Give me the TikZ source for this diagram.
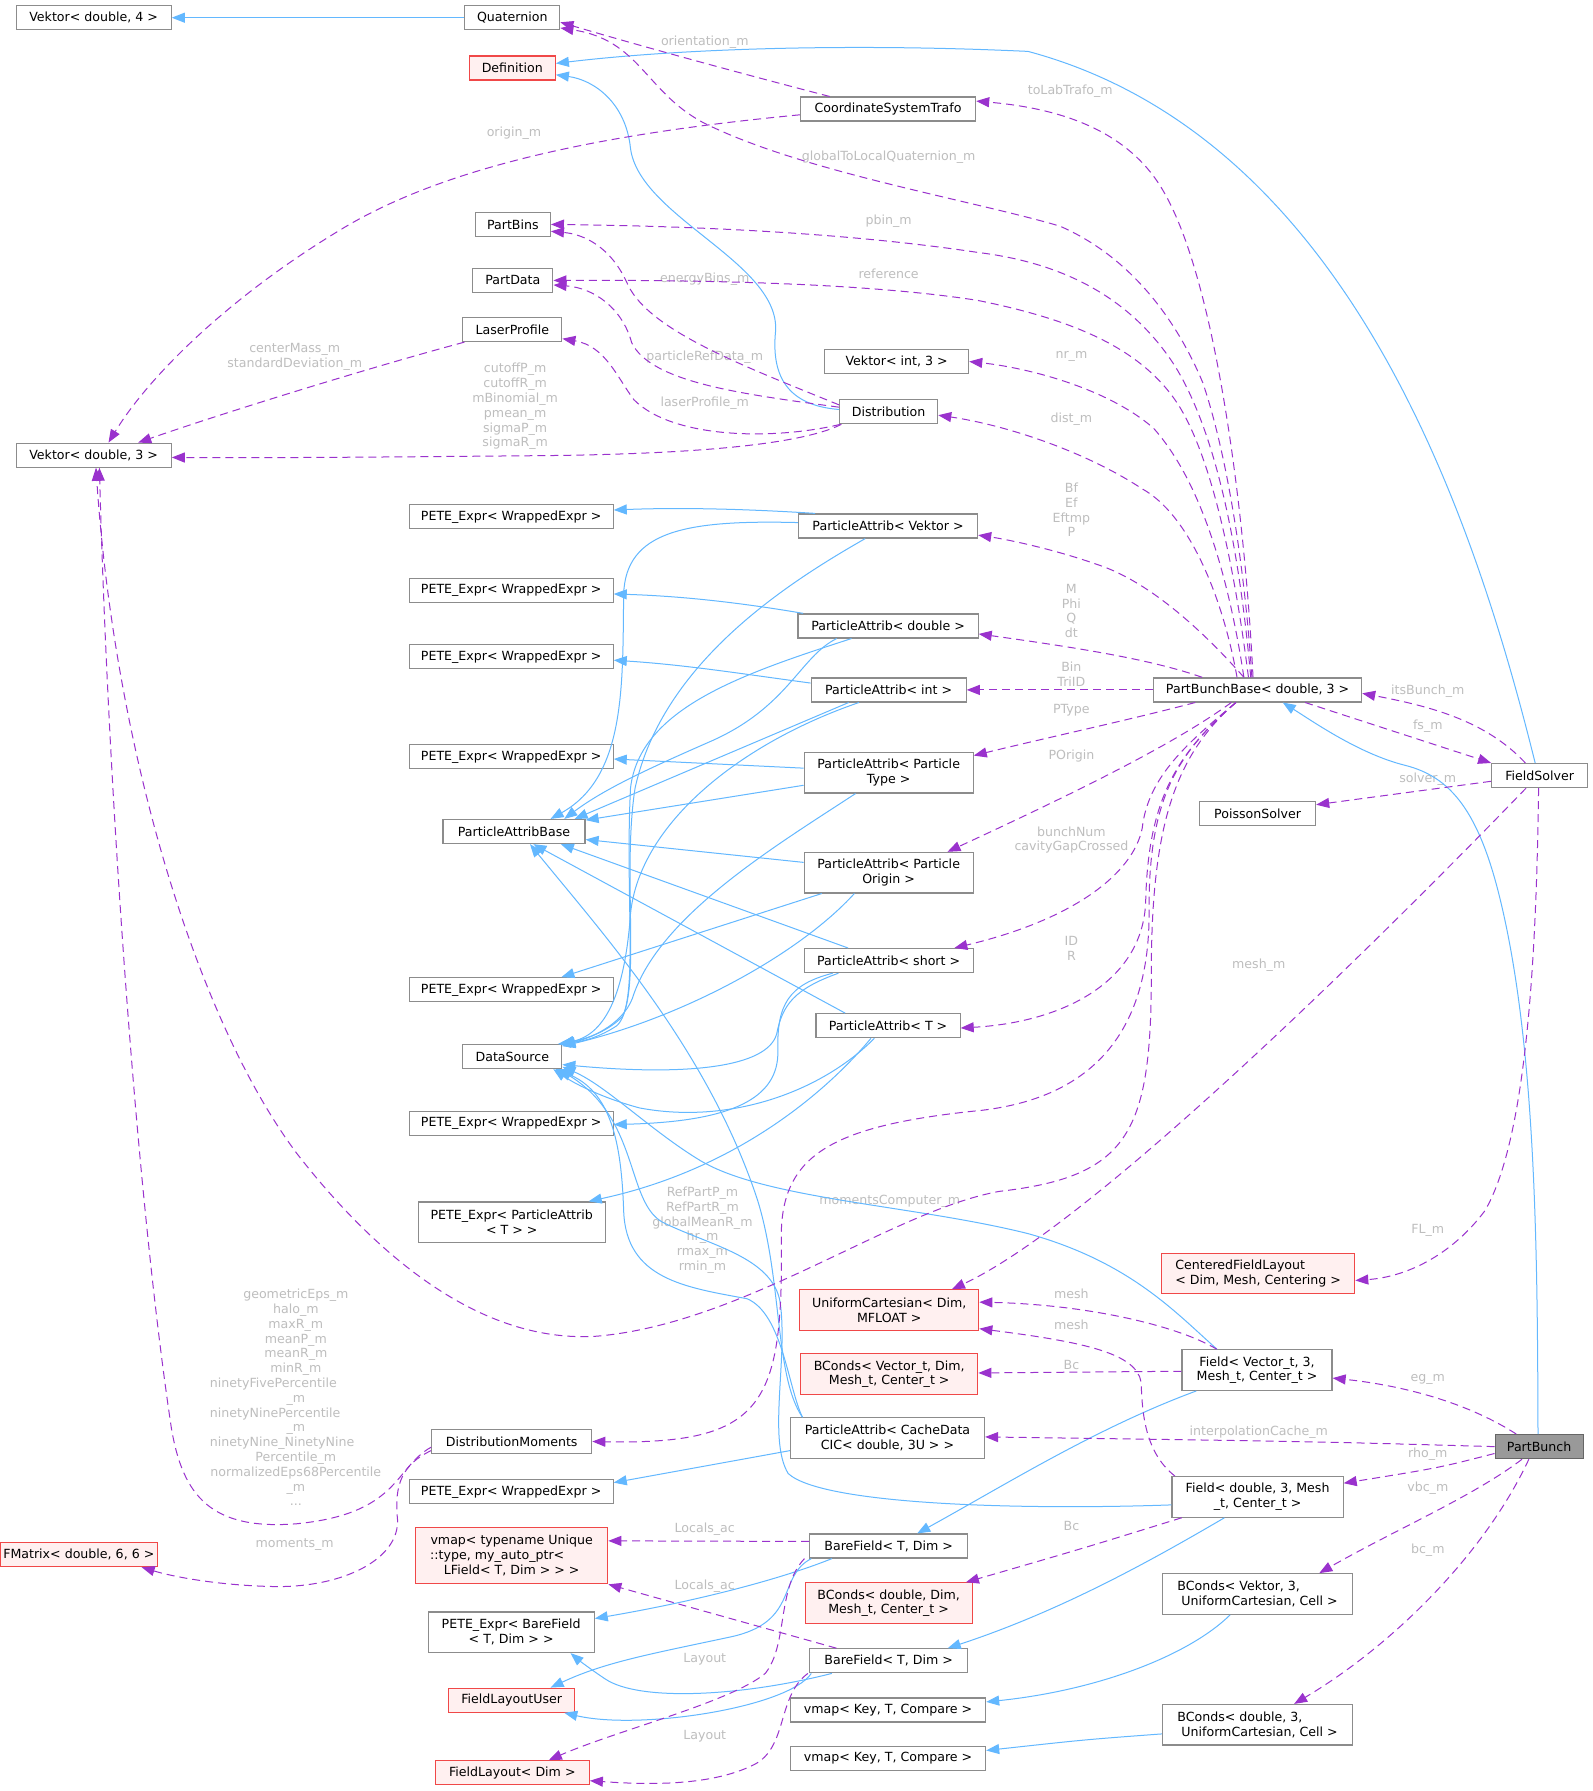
\documentclass[tikz,border=0pt]{standalone}
\usepackage{fontspec}
\setmainfont{DejaVu Sans}
\usetikzlibrary{arrows.meta,calc}
\newcommand\dfont{\fontsize{12.6pt}{14.8pt}\selectfont}
\newcommand\lblline[1]{\hbox to 171.7pt{#1\hss}}
\newcommand\vmline[1]{\hbox to 163pt{#1\hss}}
\definecolor{eblue}{HTML}{63B8FF}
\definecolor{epurple}{HTML}{9A32CD}
\definecolor{lgrey}{HTML}{BEBEBE}
\definecolor{nborder}{HTML}{8C8C8C}
\definecolor{rborder}{HTML}{F04848}
\definecolor{rfill}{HTML}{FFF0F0}
\definecolor{mainfill}{HTML}{999999}
\definecolor{mainborder}{HTML}{666666}
\tikzset{
  cls/.style={draw=nborder, line width=1.2pt, fill=white, font=\dfont, align=center, inner xsep=3pt, inner ysep=2pt, minimum height=24pt, text=black},
  redcls/.style={cls, draw=rborder, fill=rfill},
  maincls/.style={cls, draw=mainborder, fill=mainfill},
  twoline/.style={minimum height=40.5pt},
  threeline/.style={minimum height=56pt},
  inh/.style={draw=eblue, line width=1pt, -{Triangle[length=13pt,width=10pt]}},
  usg/.style={draw=epurple, line width=1pt, dash pattern=on 8pt off 5pt, -{Triangle[length=13pt,width=10pt]}},
  lbl/.style={font=\dfont, text=lgrey, align=center, inner sep=0pt},
}
\begin{document}
\begin{tikzpicture}[x=1.142pt,y=-1.142pt]
\fill[white] (0,0) rectangle (1394,1568);
\useasboundingbox (0,0) rectangle (1394,1568);

% ---------------- nodes ----------------
\node[cls,minimum width=155pt] (vek4) at (82,15.5) {Vektor< double, 4 >};
\node[cls,minimum width=95pt] (quat) at (448.5,15.5) {Quaternion};
\node[redcls,minimum width=86pt] (definition) at (448.5,59.5) {Definition};
\node[cls,minimum width=175pt] (cst) at (777.5,95.5) {CoordinateSystemTrafo};
\node[cls,minimum width=75pt] (partbins) at (449,196.5) {PartBins};
\node[cls,minimum width=80pt] (partdata) at (449,245.5) {PartData};
\node[cls,minimum width=99pt] (laser) at (448.5,288.5) {LaserProfile};
\node[cls,minimum width=144pt] (vint) at (785,316.5) {Vektor< int, 3 >};
\node[cls,minimum width=98pt] (distrib) at (778,360.5) {Distribution};
\node[cls,minimum width=155pt] (vek3) at (82,398.5) {Vektor< double, 3 >};
\node[cls,minimum width=204pt] (peteA) at (447.5,452.5) {PETE\_Expr< WrappedExpr >};
\node[cls,minimum width=179pt] (paVek) at (777.5,460.5) {ParticleAttrib< Vektor >};
\node[cls,minimum width=204pt] (peteB) at (447.5,517) {PETE\_Expr< WrappedExpr >};
\node[cls,minimum width=180pt] (paDbl) at (777.5,548) {ParticleAttrib< double >};
\node[cls,minimum width=204pt] (peteC) at (447.5,575) {PETE\_Expr< WrappedExpr >};
\node[cls,minimum width=155pt] (paInt) at (778,604) {ParticleAttrib< int >};
\node[cls,minimum width=208pt] (pbb) at (1101,604) {PartBunchBase< double, 3 >};
\node[cls,minimum width=204pt] (peteD) at (447.5,662.5) {PETE\_Expr< WrappedExpr >};
\node[cls,twoline,minimum width=169pt] (paType) at (778,676.5) {ParticleAttrib< Particle\\Type >};
\node[cls,minimum width=142pt] (pabase) at (450,728) {ParticleAttribBase};
\node[cls,minimum width=96pt] (fsolver) at (1348,679) {FieldSolver};
\node[cls,minimum width=116pt] (poisson) at (1101,712.5) {PoissonSolver};
\node[cls,twoline,minimum width=169pt] (paOrig) at (778,764) {ParticleAttrib< Particle\\Origin >};
\node[cls,minimum width=169pt] (paShort) at (778,841) {ParticleAttrib< short >};
\node[cls,minimum width=204pt] (peteE) at (447.5,866.5) {PETE\_Expr< WrappedExpr >};
\node[cls,minimum width=144pt] (paT) at (777.5,898) {ParticleAttrib< T >};
\node[cls,minimum width=99pt] (datasrc) at (448.5,925) {DataSource};
\node[cls,minimum width=204pt] (peteF) at (447.5,983.5) {PETE\_Expr< WrappedExpr >};
\node[cls,twoline,minimum width=187pt] (petePAT) at (448,1070) {PETE\_Expr< ParticleAttrib\\< T > >};
\node[redcls,twoline,minimum width=193pt,align=left] (cfl) at (1101.5,1115) {CenteredFieldLayout\\< Dim, Mesh, Centering >};
\node[redcls,twoline,minimum width=179pt] (uc) at (778.5,1147) {UniformCartesian< Dim,\\MFLOAT >};
\node[redcls,twoline,minimum width=177pt] (bcvt) at (778.5,1203) {BConds< Vector\_t, Dim,\\Mesh\_t, Center\_t >};
\node[cls,twoline,minimum width=150pt] (fvt) at (1100.5,1199.5) {Field< Vector\_t, 3,\\Mesh\_t, Center\_t >};
\node[cls,minimum width=160pt] (dmom) at (448,1262) {DistributionMoments};
\node[cls,twoline,minimum width=194pt] (cache) at (777,1259) {ParticleAttrib< CacheData\\CIC< double, 3U > >};
\node[maincls,minimum width=88pt] (partbunch) at (1347.5,1266.5) {PartBunch};
\node[cls,minimum width=204pt] (peteG) at (447.5,1306) {PETE\_Expr< WrappedExpr >};
\node[cls,twoline,minimum width=171pt] (fdbl) at (1101,1310.5) {Field< double, 3, Mesh\\\_t, Center\_t >};
\node[redcls,minimum width=146pt] (fmatrix) at (69,1361) {FMatrix< double, 6, 6 >};
\node[redcls,threeline,minimum width=192pt] (vmapT) at (448,1362) {vmap< typename Unique\\\vmline{::type, my\_auto\_ptr<}\\LField< T, Dim > > >};
\node[cls,minimum width=158pt] (bfA) at (778,1353.5) {BareField< T, Dim >};
\node[redcls,twoline,minimum width=167pt] (bcd) at (778,1403.5) {BConds< double, Dim,\\Mesh\_t, Center\_t >};
\node[cls,twoline,minimum width=190pt,align=left] (bcv3) at (1101,1395.5) {BConds< Vektor, 3,\\\hspace*{4pt}UniformCartesian, Cell >};
\node[cls,twoline,minimum width=166pt] (petebf) at (447.5,1429) {PETE\_Expr< BareField\\< T, Dim > >};
\node[cls,minimum width=158pt] (bfB) at (778,1454) {BareField< T, Dim >};
\node[redcls,minimum width=126pt] (flu) at (448,1488.5) {FieldLayoutUser};
\node[cls,minimum width=195pt] (vmapA) at (777.5,1497) {vmap< Key, T, Compare >};
\node[cls,twoline,minimum width=190pt,align=left] (bcd3) at (1101,1510) {BConds< double, 3,\\\hspace*{4pt}UniformCartesian, Cell >};
\node[redcls,minimum width=154pt] (flayout) at (448.5,1552) {FieldLayout< Dim >};
\node[cls,minimum width=195pt] (vmapB) at (777.5,1539.5) {vmap< Key, T, Compare >};

% ---------------- labels ----------------
\node[lbl] (lOrient) at (617,37) {orientation\_m};
\node[lbl] (lToLab) at (937,80) {toLabTrafo\_m};
\node[lbl] (lOriginM) at (450,117) {origin\_m};
\node[lbl] (lG2L) at (778,138) {globalToLocalQuaternion\_m};
\node[lbl] (lPbin) at (778,194) {pbin\_m};
\node[lbl] (lEBins) at (617,244) {energyBins\_m};
\node[lbl] (lRef) at (778,240) {reference};
\node[lbl] (lCM) at (258,312.5) {centerMass\_m\\standardDeviation\_m};
\node[lbl] (lCut) at (451,356) {cutoffP\_m\\cutoffR\_m\\mBinomial\_m\\pmean\_m\\sigmaP\_m\\sigmaR\_m};
\node[lbl] (lPRD) at (617,313) {particleRefData\_m};
\node[lbl] (lNr) at (938,312) {nr\_m};
\node[lbl] (lLP) at (617,353) {laserProfile\_m};
\node[lbl] (lDist) at (938,367) {dist\_m};
\node[lbl] (lBf) at (938,446.5) {Bf\\Ef\\Eftmp\\P};
\node[lbl] (lM) at (938,535) {M\\Phi\\Q\\dt};
\node[lbl] (lBin) at (938,590.5) {Bin\\TriID};
\node[lbl] (lPType) at (938,622) {PType};
\node[lbl] (lIts) at (1250,605) {itsBunch\_m};
\node[lbl] (lFs) at (1250,636) {fs\_m};
\node[lbl] (lPOrig) at (938,662) {POrigin};
\node[lbl] (lSolver) at (1250,682) {solver\_m};
\node[lbl] (lBunch) at (938,735.5) {bunchNum\\cavityGapCrossed};
\node[lbl] (lID) at (938,830.5) {ID\\R};
\node[lbl] (lMeshM) at (1102,845) {mesh\_m};
\node[lbl] (lMC) at (779,1052) {momentsComputer\_m};
\node[lbl] (lRefP) at (615,1077) {RefPartP\_m\\RefPartR\_m\\globalMeanR\_m\\hr\_m\\rmax\_m\\rmin\_m};
\node[lbl] (lFL) at (1250,1077) {FL\_m};
\node[lbl] (lMesh1) at (938,1133) {mesh};
\node[lbl] (lMesh2) at (938,1160) {mesh};
\node[lbl] (lBc1) at (938,1195) {Bc};
\node[lbl] (lEg) at (1250,1208) {eg\_m};
\node[lbl] (lGeo) at (259,1223.5) {geometricEps\_m\\halo\_m\\maxR\_m\\meanP\_m\\meanR\_m\\minR\_m\\\lblline{ninetyFivePercentile}\\\_m\\\lblline{ninetyNinePercentile}\\\_m\\\lblline{ninetyNine\_NinetyNine}\\Percentile\_m\\normalizedEps68Percentile\\\_m\\...};
\node[lbl] (lIC) at (1102,1254) {interpolationCache\_m};
\node[lbl] (lRho) at (1250,1273) {rho\_m};
\node[lbl] (lVbc) at (1250,1303) {vbc\_m};
\node[lbl] (lLA1) at (617,1339) {Locals\_ac};
\node[lbl] (lBc2) at (938,1336) {Bc};
\node[lbl] (lMom) at (258,1352) {moments\_m};
\node[lbl] (lBcm) at (1250,1357) {bc\_m};
\node[lbl] (lLA2) at (617,1389) {Locals\_ac};
\node[lbl] (lLay1) at (617,1453) {Layout};
\node[lbl] (lLay2) at (617,1520) {Layout};

% ---------------- inheritance (blue) ----------------
\draw[inh] (quat) -- (vek4);
\draw[inh] ($(fsolver.north)+(-4,0)$) .. controls (1290,450) and (1180,120) .. (900,45) .. controls (750,38) and (600,42) .. ($(definition.east)+(0,-4)$);
\draw[inh] ($(distrib.west)+(0,-2)$) .. controls (690,355) and (675,330) .. (679,290) .. controls (683,230) and (560,190) .. (552,130) .. controls (548,90) and (520,70) .. ($(definition.east)+(0,6)$);
\draw[inh] ($(partbunch.north)+(-1,0)$) .. controls (1346,1100) and (1345,920) .. (1314,790) .. controls (1295,710) and (1270,680) .. (1230,670) .. controls (1190,660) and (1150,632) .. ($(pbb.south)+(22,0)$);
% Vektor
\draw[inh] ($(paVek.north west)+(15,0)$) .. controls (660,446) and (600,444) .. ($(peteA.east)+(0,-6)$);
\draw[inh] ($(paVek.west)+(0,-3)$) .. controls (600,455) and (548,465) .. (546,520) .. controls (545,600) and (548,680) .. ($(pabase.north)+(32,0)$);
\draw[inh] ($(paVek.south)+(-20,0)$) .. controls (690,510) and (580,580) .. (556,690) .. controls (545,760) and (560,860) .. (545,890) .. controls (530,905) and (510,910) .. ($(datasrc.north east)+(-2,0)$);
% double
\draw[inh] ($(paDbl.north west)+(5,0)$) .. controls (650,528) and (600,522) .. ($(peteB.east)+(0,3)$);
\draw[inh] ($(paDbl.south)+(-45,0)$) .. controls (700,575) and (690,620) .. (620,650) .. controls (570,672) and (530,690) .. ($(pabase.north)+(44,0)$);
\draw[inh] ($(paDbl.south)+(-32,0)$) .. controls (650,590) and (560,620) .. (552,690) .. controls (547,790) and (560,880) .. (540,898) .. controls (525,908) and (510,912) .. ($(datasrc.north east)+(-4,0)$);
% int
\draw[inh] ($(paInt.west)+(0,-6)$) .. controls (650,590) and (600,582) .. ($(peteC.east)+(0,3)$);
\draw[inh] ($(paInt.south)+(-35,0)$) -- ($(pabase.north)+(53,0)$);
\draw[inh] ($(paInt.south)+(-26,0)$) .. controls (650,650) and (560,720) .. (552,800) .. controls (547,870) and (530,905) .. ($(datasrc.north east)+(-1,0)$);
% Type
\draw[inh] ($(paType.west)+(0,-4)$) -- ($(peteD.east)+(0,2)$);
\draw[inh] ($(paType.west)+(0,11)$) -- ($(pabase.east)+(0,-10)$);
\draw[inh] ($(paType.south)+(-29,0)$) .. controls (680,740) and (580,800) .. (555,870) .. controls (548,895) and (520,908) .. ($(datasrc.north east)+(0,1)$);
% Origin
\draw[inh] ($(paOrig.west)+(0,-9)$) -- ($(pabase.east)+(0,7)$);
\draw[inh] ($(paOrig.south west)+(16,0)$) -- ($(peteE.north)+(44,0)$);
\draw[inh] ($(paOrig.south)+(-30,0)$) .. controls (700,835) and (600,890) .. ($(datasrc.north east)+(0,2)$);
% short
\draw[inh] ($(paShort.north west)+(39,0)$) -- ($(pabase.south)+(41,0)$);
\draw[inh] ($(paShort.south)+(-49,0)$) .. controls (690,862) and (680,880) .. (681,920) .. controls (682,962) and (640,982) .. ($(peteF.east)+(0,1)$);
\draw[inh] ($(paShort.south)+(-44,0)$) .. controls (695,866) and (685,880) .. (680,905) .. controls (672,935) and (600,942) .. ($(datasrc.south east)+(0,-4)$);
% T
\draw[inh] ($(paT.north west)+(26,0)$) -- ($(pabase.south)+(17,0)$);
\draw[inh] ($(paT.south)+(-12,0)$) .. controls (720,955) and (640,985) .. (560,970) .. controls (530,962) and (505,950) .. ($(datasrc.south east)+(-8,0)$);
\draw[inh] ($(paT.south)+(-15,0)$) .. controls (720,960) and (640,1025) .. ($(petePAT.north east)+(-15,0)$);
% CacheData
\draw[inh] ($(cache.west)+(0,11)$) -- ($(peteG.east)+(0,-8)$);
\draw[inh] ($(cache.north west)+(11,0)$) .. controls (678,1205) and (685,1120) .. (663,1050) .. controls (620,920) and (530,820) .. ($(pabase.south)+(14,0)$);
\draw[inh] ($(cache.north west)+(11,0)$) .. controls (690,1215) and (685,1150) .. (654,1137) .. controls (600,1127) and (548,1120) .. (546,1060) .. controls (544,1000) and (535,955) .. ($(datasrc.south east)+(-6,0)$);
% Field< Vector_t >
\draw[inh] ($(fvt.south west)+(13,0)$) .. controls (960,1250) and (880,1300) .. ($(bfA.north)+(25,0)$);
\draw[inh] ($(fvt.north)+(-35,0)$) .. controls (1030,1150) and (990,1105) .. (900,1080) .. controls (800,1055) and (670,1050) .. (613,1016) .. controls (570,990) and (530,950) .. ($(datasrc.south east)+(0,-2)$);
% Field< double >
\draw[inh] ($(fdbl.south)+(-29,0)$) .. controls (1010,1365) and (930,1410) .. ($(bfB.north east)+(-18,0)$);
\draw[inh] ($(fdbl.west)+(0,7)$) .. controls (900,1322) and (720,1318) .. (690,1290) .. controls (672,1260) and (690,1190) .. (683,1140) .. controls (676,1100) and (620,1090) .. (580,1070) .. controls (548,1052) and (560,980) .. ($(datasrc.south east)+(-3,0)$);
% BareField
\draw[inh] ($(bfA.south west)+(20,0)$) .. controls (690,1380) and (620,1400) .. ($(petebf.east)+(0,-12)$);
\draw[inh] ($(bfA.south west)+(2,0)$) .. controls (680,1380) and (700,1420) .. (640,1433) .. controls (570,1448) and (530,1455) .. ($(flu.north)+(34,0)$);
\draw[inh] ($(bfB.south west)+(20,0)$) .. controls (650,1485) and (560,1490) .. (530,1470) .. controls (515,1460) and (505,1452) .. ($(petebf.south)+(52,0)$);
\draw[inh] ($(bfB.south west)+(2,0)$) .. controls (690,1495) and (560,1515) .. ($(flu.south)+(46,0)$);
% BConds
\draw[inh] ($(bcv3.south)+(-24,0)$) .. controls (1040,1450) and (960,1480) .. ($(vmapA.east)+(0,-7)$);
\draw[inh] ($(bcd3.west)+(0,8)$) .. controls (950,1523) .. ($(vmapB.east)+(0,-7)$);

% ---------------- usage (purple dashed) ----------------
\draw[usg] ($(cst.north west)+(26,0)$) .. controls (640,62) and (560,40) .. ($(quat.east)+(0,4)$);
\draw[usg] ($(pbb.north)+(-5,0)$) .. controls (1090,500) and (1075,400) .. (1053,335) .. controls (1030,280) and (990,225) .. (928,198) .. controls (850,175) and (700,150) .. (615,107) .. controls (565,80) and (560,35) .. ($(quat.east)+(0,9)$);
\draw[usg] ($(pbb.north)+(-4,0)$) .. controls (1090,450) and (1065,250) .. (1020,170) .. controls (990,115) and (930,95) .. ($(cst.east)+(0,-7)$);
\draw[usg] ($(pbb.north)+(-6,0)$) .. controls (1085,480) and (1065,380) .. (1029,321) .. controls (990,260) and (930,230) .. (856,221) .. controls (750,205) and (620,198) .. (partbins.east);
\draw[usg] ($(pbb.north)+(-8,0)$) .. controls (1080,490) and (1060,400) .. (1032,355) .. controls (1000,305) and (940,280) .. (856,263) .. controls (760,248) and (620,245) .. (partdata.east);
\draw[usg] ($(pbb.north)+(-12,0)$) .. controls (1075,500) and (1050,420) .. (1010,375) .. controls (970,340) and (900,322) .. (vint.east);
\draw[usg] ($(pbb.north)+(-18,0)$) .. controls (1070,520) and (1040,450) .. (1000,428) .. controls (950,395) and (880,372) .. ($(distrib.east)+(0,3)$);
\draw[usg] ($(pbb.north)+(-12,0)$) .. controls (1060,560) and (1010,510) .. (960,494) .. controls (920,480) and (880,472) .. ($(paVek.east)+(0,8)$);
\draw[usg] ($(pbb.north west)+(43,0)$) .. controls (1010,578) and (950,568) .. ($(paDbl.east)+(0,7)$);
\draw[usg] (pbb.west) -- (paInt.east);
\draw[usg] ($(pbb.south west)+(37,0)$) .. controls (990,630) and (920,645) .. ($(paType.east)+(0,-15)$);
\draw[usg] ($(pbb.south)+(-23,0)$) .. controls (1030,650) and (950,690) .. ($(paOrig.north east)+(-23,0)$);
\draw[usg] ($(pbb.south)+(-19,0)$) .. controls (1040,650) and (1005,680) .. (1000,725) .. controls (992,765) and (940,805) .. ($(paShort.north east)+(-17,0)$);
\draw[usg] ($(pbb.south)+(-19,0)$) .. controls (1030,660) and (1005,700) .. (1003,790) .. controls (1000,860) and (930,895) .. ($(paT.east)+(0,2)$);
\draw[usg] ($(pbb.south)+(-19,0)$) .. controls (1030,660) and (1008,720) .. (1008,850) .. controls (1008,990) and (990,1030) .. (875,1043) .. controls (780,1060) and (650,1160) .. (520,1170) .. controls (420,1175) and (330,1100) .. (260,1010) .. controls (170,890) and (100,650) .. ($(vek3.south)+(2,0)$);
\draw[usg] ($(pbb.south)+(-19,0)$) .. controls (1030,660) and (1005,700) .. (1006,800) .. controls (1006,900) and (960,960) .. (860,972) .. controls (730,985) and (685,1010) .. (684,1080) .. controls (686,1230) and (670,1265) .. (dmom.east);
\draw[usg] ($(pbb.south east)+(-50,0)$) -- (fsolver.north west);
\draw[usg] ($(fsolver.north west)+(30,0)$) .. controls (1300,630) and (1250,618) .. ($(pbb.east)+(0,3)$);
\draw[usg] ($(fsolver.west)+(0,5)$) -- ($(poisson.east)+(0,-8)$);
\draw[usg] ($(fsolver.south)+(-12,0)$) .. controls (1220,810) and (960,1070) .. ($(uc.north east)+(-24,0)$);
\draw[usg] ($(fsolver.south)+(-1,0)$) .. controls (1345,850) and (1335,1000) .. (1300,1060) .. controls (1270,1100) and (1230,1118) .. ($(cfl.east)+(0,6)$);
\draw[usg] ($(distrib.north west)+(0,5)$) .. controls (650,320) and (570,290) .. (550,250) .. controls (535,215) and (510,205) .. ($(partbins.east)+(0,6)$);
\draw[usg] ($(distrib.west)+(0,-4)$) .. controls (650,345) and (570,335) .. (553,300) .. controls (545,270) and (520,252) .. ($(partdata.east)+(0,4)$);
\draw[usg] ($(distrib.south west)+(1,0)$) .. controls (680,385) and (590,385) .. (555,350) .. controls (540,330) and (530,303) .. ($(laser.east)+(0,8)$);
\draw[usg] ($(distrib.south west)+(2,0)$) .. controls (700,390) and (600,398) .. (464,399) .. controls (350,400) and (250,401) .. ($(vek3.east)+(0,2)$);
\draw[usg] ($(laser.south west)+(2,0)$) .. controls (330,320) and (200,360) .. ($(vek3.north)+(39,0)$);
\draw[usg] ($(cst.west)+(0,5)$) .. controls (550,115) and (400,140) .. (300,200) .. controls (200,260) and (130,330) .. ($(vek3.north)+(13,0)$);
\draw[usg] ($(dmom.west)+(0,5)$) .. controls (345,1285) and (350,1325) .. (260,1334) .. controls (185,1340) and (160,1310) .. (150,1250) .. controls (120,1050) and (95,700) .. ($(vek3.south)+(5,0)$);
\draw[usg] ($(dmom.west)+(0,8)$) .. controls (352,1282) and (345,1300) .. (348,1330) .. controls (350,1365) and (300,1390) .. (240,1389) .. controls (190,1388) and (150,1380) .. ($(fmatrix.south)+(55,0)$);
\draw[usg] (partbunch.west) .. controls (1150,1262) .. ($(cache.east)+(0,-1)$);
\draw[usg] ($(partbunch.north west)+(19,0)$) .. controls (1280,1225) and (1220,1212) .. ($(fvt.east)+(0,7)$);
\draw[usg] ($(partbunch.west)+(0,6)$) .. controls (1260,1285) .. ($(fdbl.east)+(0,-12)$);
\draw[usg] ($(partbunch.south)+(-15,0)$) .. controls (1290,1310) and (1220,1340) .. ($(bcv3.north)+(54,0)$);
\draw[usg] ($(partbunch.south)+(-9,0)$) .. controls (1300,1360) and (1220,1440) .. ($(bcd3.north)+(32,0)$);
\draw[usg] ($(fvt.north west)+(31,0)$) .. controls (1030,1160) and (950,1142) .. ($(uc.east)+(0,-7)$);
\draw[usg] ($(fvt.west)+(0,1)$) -- ($(bcvt.east)+(0,-1)$);
\draw[usg] ($(fdbl.north west)+(3,0)$) .. controls (1000,1270) and (1000,1230) .. (999,1210) .. controls (995,1185) and (950,1175) .. ($(uc.south east)+(0,-2)$);
\draw[usg] ($(fdbl.south west)+(9,0)$) .. controls (950,1355) .. ($(bcd.north east)+(-6,0)$);
\draw[usg] ($(bfA.west)+(0,-4)$) -- ($(vmapT.east)+(0,-13)$);
\draw[usg] ($(bfB.north west)+(24,0)$) -- (vmapT.south east);
\draw[usg] ($(bfA.south west)+(-4,0)$) .. controls (680,1390) and (690,1440) .. (670,1465) .. controls (640,1490) and (540,1515) .. ($(flayout.north)+(32,0)$);
\draw[usg] ($(bfB.south west)+(-1,0)$) .. controls (680,1485) and (690,1530) .. (660,1545) .. controls (620,1565) and (560,1562) .. ($(flayout.east)+(0,7)$);
\end{tikzpicture}
\end{document}
